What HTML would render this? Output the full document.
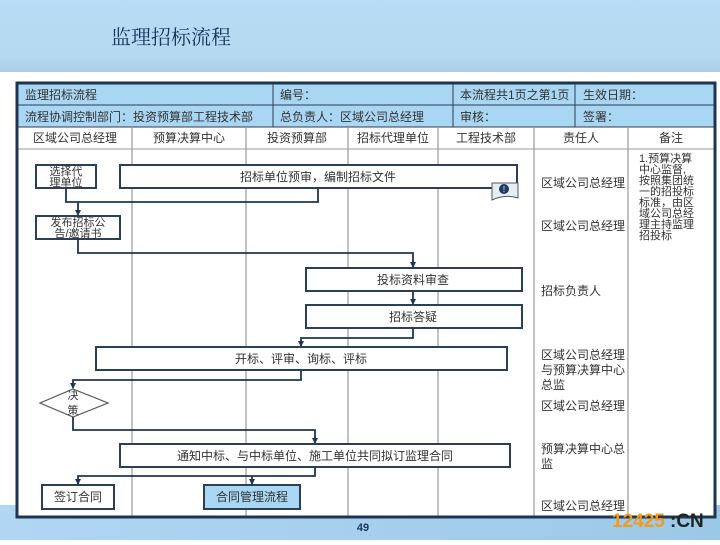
<!DOCTYPE html>
<html><head><meta charset="utf-8"><style>
body{margin:0;width:720px;height:540px;overflow:hidden;font-family:"Liberation Sans","Noto Sans CJK SC",sans-serif;}
</style></head><body>
<svg width="720" height="540" xmlns="http://www.w3.org/2000/svg" font-family="Liberation Sans, Noto Sans CJK SC, sans-serif">
<defs>
<linearGradient id="hd" x1="0" y1="0" x2="0" y2="1"><stop offset="0" stop-color="#b9dcf7"/><stop offset="0.8" stop-color="#b5d9ef"/><stop offset="1" stop-color="#a9cfe6"/></linearGradient>
<linearGradient id="ft" x1="0" y1="0" x2="1" y2="0"><stop offset="0" stop-color="#b0d6f3"/><stop offset="1" stop-color="#9cc8e8"/></linearGradient>
<marker id="a" markerWidth="6" markerHeight="6" refX="5" refY="3" orient="auto" markerUnits="userSpaceOnUse"><path d="M0,0 L6,3 L0,6 z" fill="#1f3550"/></marker>
</defs>
<rect width="720" height="540" fill="#fff"/>
<rect width="720" height="72" fill="url(#hd)"/>
<text x="111" y="44" font-size="20" fill="#1a3560" font-family="Liberation Serif, Noto Serif CJK SC, serif">监理招标流程</text>
<rect y="505" width="720" height="35" fill="url(#ft)"/>
<rect x="17" y="83" width="698" height="434" fill="#fff"/>
<rect x="17" y="83" width="698" height="44" fill="#a9d6f2"/>
<g stroke="#2b3f57" stroke-width="1">
<line x1="17" y1="105" x2="715" y2="105"/><line x1="17" y1="127" x2="715" y2="127"/><line x1="17" y1="149" x2="715" y2="149" stroke="#999"/>
<line x1="273" y1="83" x2="273" y2="127"/><line x1="453" y1="83" x2="453" y2="127"/><line x1="575" y1="83" x2="575" y2="127"/>
</g>
<g stroke="#999" stroke-width="1.2">
<line x1="132" y1="127" x2="132" y2="517"/><line x1="246" y1="127" x2="246" y2="517"/><line x1="348" y1="127" x2="348" y2="517"/><line x1="438" y1="127" x2="438" y2="517"/><line x1="534" y1="127" x2="534" y2="517"/><line x1="628" y1="127" x2="628" y2="517"/>
</g>
<rect x="17" y="83" width="698" height="434" fill="none" stroke="#1e3550" stroke-width="3"/>
<g font-size="12" fill="#333">
<text x="25" y="99">监理招标流程</text><text x="280" y="99">编号：</text><text x="460" y="99">本流程共1页之第1页</text><text x="583" y="99">生效日期：</text>
<text x="25" y="121">流程协调控制部门：投资预算部工程技术部</text><text x="280" y="121">总负责人：区域公司总经理</text><text x="460" y="121">审核：</text><text x="583" y="121">签署：</text>
</g>
<g font-size="12" fill="#333" text-anchor="middle">
<text x="75" y="142">区域公司总经理</text><text x="189" y="142">预算决算中心</text><text x="297" y="142">投资预算部</text><text x="393" y="142">招标代理单位</text><text x="486" y="142">工程技术部</text><text x="581" y="142">责任人</text><text x="671" y="142">备注</text>
</g>
<g fill="#fff" stroke="#2b3f57" stroke-width="2">
<rect x="36" y="165" width="60" height="23"/><rect x="120" y="165" width="397" height="23"/>
<rect x="36" y="216" width="84" height="23"/>
<rect x="306" y="268" width="216" height="23"/><rect x="306" y="305" width="216" height="23"/>
<rect x="96" y="347" width="411" height="23"/>
<polygon points="40,403 73,389 108,403 73,417" stroke-width="1.2" stroke="#555"/>
<rect x="120" y="444" width="390" height="23"/>
<rect x="42" y="485" width="72" height="24"/><rect x="204" y="485" width="96" height="24" fill="#a9d6f2"/>
</g>
<path d="M492,183 h26 v15 q-13,-4 -26,2 z" fill="#e6eef5" stroke="#555"/>
<circle cx="504" cy="189" r="5" fill="#1f3a66"/><text x="504" y="192" font-size="8" fill="#fff" text-anchor="middle">!</text>
<g fill="none" stroke="#1f3550" stroke-width="1.8">
<path d="M66,188 V202 H318 V188"/><path d="M78,202 V215" marker-end="url(#a)"/>
<path d="M78,239 V253 H413 V267" marker-end="url(#a)"/>
<path d="M413,291 V304" marker-end="url(#a)"/>
<path d="M413,328 V338 H301 V346" marker-end="url(#a)"/>
<path d="M301,370 V380 H73 V388" marker-end="url(#a)"/>
<path d="M73,417 V430 H315 V443" marker-end="url(#a)"/>
<path d="M315,467 V476 H78 V484" marker-end="url(#a)"/>
<path d="M252,476 V484" marker-end="url(#a)"/>
</g>
<g font-size="12" fill="#333" text-anchor="middle">
<text x="66" y="175" font-size="11">选择代</text><text x="66" y="186" font-size="11">理单位</text>
<text x="318" y="181">招标单位预审，编制招标文件</text>
<text x="78" y="226" font-size="11">发布招标公</text><text x="78" y="237" font-size="11">告/邀请书</text>
<text x="413" y="284">投标资料审查</text><text x="413" y="321">招标答疑</text>
<text x="301" y="363">开标、评审、询标、评标</text>
<text x="73" y="399" font-size="11">决</text><text x="73" y="414" font-size="11">策</text>
<text x="315" y="460">通知中标、与中标单位、施工单位共同拟订监理合同</text>
<text x="78" y="501">签订合同</text><text x="252" y="501">合同管理流程</text>
</g>
<g font-size="12" fill="#333">
<text x="541" y="187">区域公司总经理</text><text x="541" y="230">区域公司总经理</text><text x="541" y="295">招标负责人</text>
<text x="541" y="359">区域公司总经理</text><text x="541" y="374">与预算决算中心</text><text x="541" y="389">总监</text>
<text x="541" y="410">区域公司总经理</text>
<text x="541" y="453">预算决算中心总</text><text x="541" y="468">监</text>
<text x="541" y="510">区域公司总经理</text>
</g>
<g font-size="11" fill="#333">
<text x="639" y="162">1.预算决算</text><text x="639" y="173">中心监督,</text><text x="639" y="184">按照集团统</text><text x="639" y="195">一的招投标</text><text x="639" y="206">标准，由区</text><text x="639" y="217">域公司总经</text><text x="639" y="228">理主持监理</text><text x="639" y="239">招投标</text>
</g>
<text x="363" y="531" font-size="11" font-weight="bold" fill="#1e3560" text-anchor="middle">49</text>
<text x="612" y="527" font-size="19" font-weight="bold" fill="#f39a1e">12425</text><text x="670" y="527" font-size="19" font-weight="bold" fill="#222">:CN</text>
</svg>
</body></html>
